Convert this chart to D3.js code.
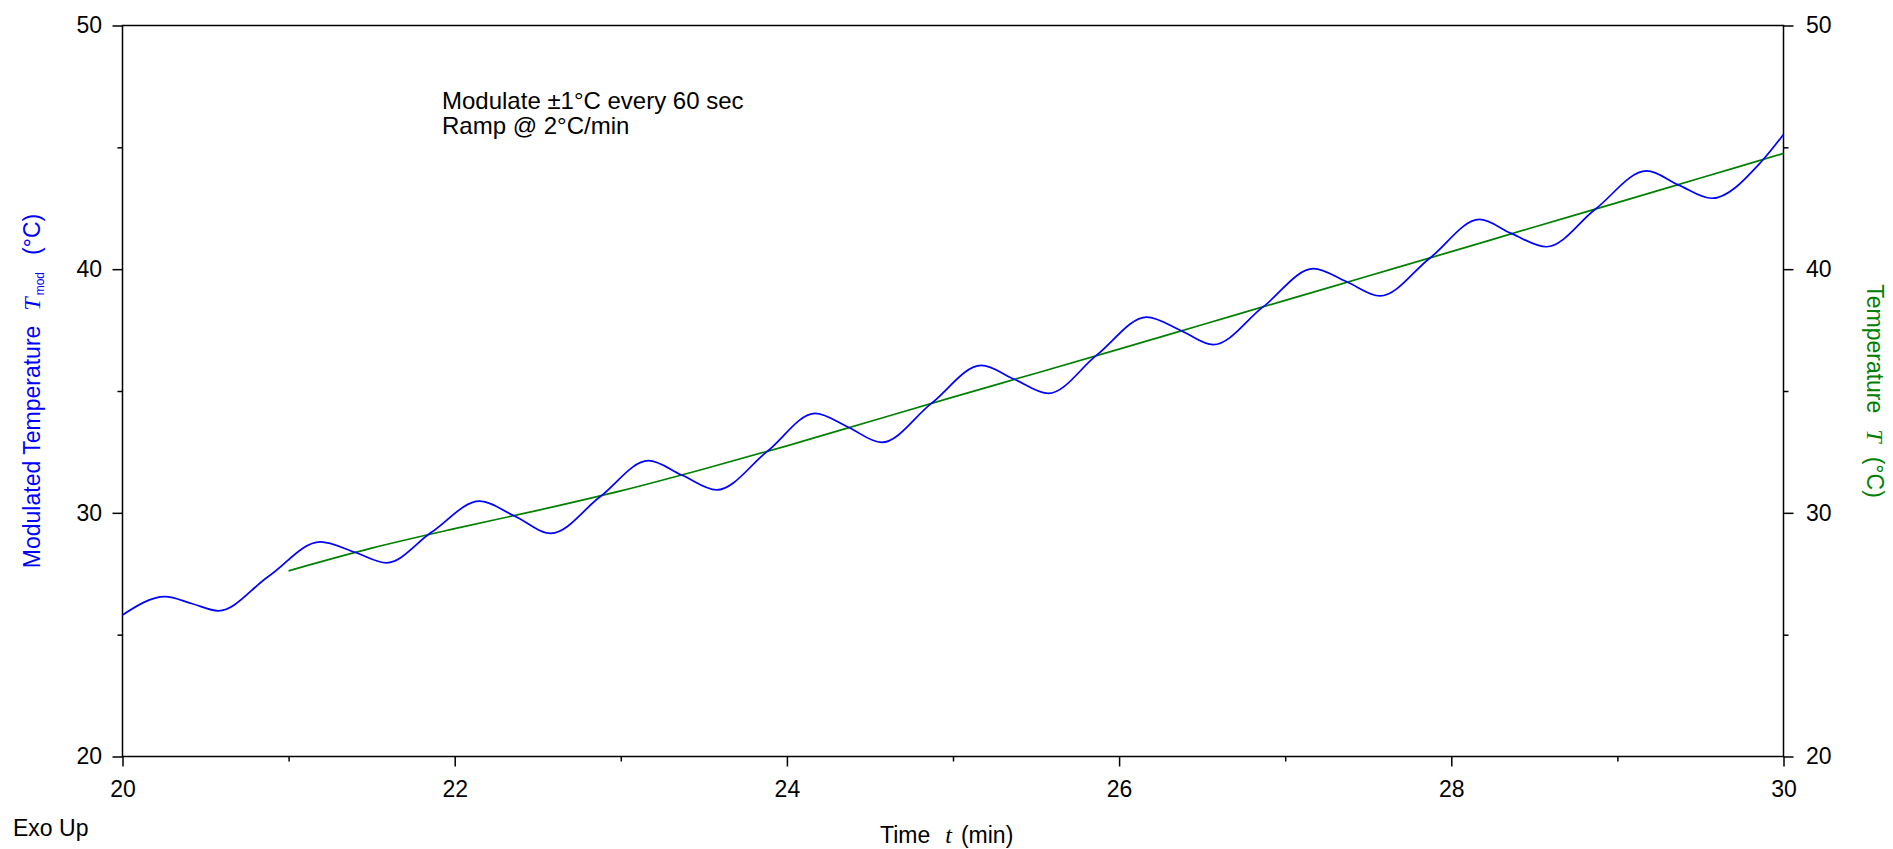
<!DOCTYPE html>
<html>
<head>
<meta charset="utf-8">
<script src="https://cdn.jsdelivr.net/npm/d3@7"></script>
<style>
  body { margin: 0; background: #fff; }
  text { font-family: Arial, "Liberation Sans", sans-serif; }
</style>
</head>
<body>
<div id="chart"></div>
<script>
// modulated temperature (extrema and mid crossings)
const modTime = [20.0, 20.256, 20.42, 20.577, 20.88, 21.19, 21.40, 21.59, 21.86, 22.15, 22.36, 22.58,
                 22.875, 23.166, 23.367, 23.577, 23.88, 24.17, 24.37, 24.57, 24.87, 25.17, 25.37, 25.574,
                 25.865, 26.166, 26.377, 26.567, 26.868, 27.17, 27.37, 27.571, 27.87, 28.17, 28.36, 28.574,
                 28.865, 29.176, 29.37, 29.568, 29.87, 30.0];
const modTemp = [25.81, 26.56, 26.27, 25.98, 27.40, 28.81, 28.38, 27.95, 29.20, 30.48, 29.87, 29.16,
                 30.66, 32.14, 31.55, 30.94, 32.51, 34.08, 33.51, 32.89, 34.49, 36.05, 35.48, 34.90,
                 36.47, 38.03, 37.46, 36.90, 38.46, 40.02, 39.48, 38.90, 40.45, 42.04, 41.47, 40.92,
                 42.45, 44.03, 43.45, 42.91, 44.44, 45.53];

// underlying ramp temperature
const rampTime = [21.0, 21.5, 22.0, 22.5, 23.0, 23.5, 24.0, 24.5, 25.0, 25.5, 26.0, 26.5, 27.0,
                  27.5, 28.0, 28.5, 29.0, 29.5, 30.0];
const rampTemp = [27.62, 28.55, 29.35, 30.10, 30.90, 31.80, 32.75, 33.75, 34.75, 35.73, 36.72, 37.72, 38.72,
                  39.72, 40.72, 41.73, 42.73, 43.74, 44.75];

const xMajor = [20, 22, 24, 26, 28, 30];
const xMinor = [21, 23, 25, 27, 29];
const yMajor = [20, 30, 40, 50];
const yMinor = [25, 35, 45];

const WIDTH = 1893;
const HEIGHT = 849;
const LEFT = 122.5, RIGHT = 1783.5, TOP = 25.5, BOTTOM = 756.5;
const FONT = 23;

let svg = d3.select("#chart")
            .append("svg")
            .attr("width", WIDTH)
            .attr("height", HEIGHT);

let xScale = d3.scaleLinear().domain([20, 30]).range([LEFT, RIGHT]);
let yScale = d3.scaleLinear().domain([20, 50]).range([BOTTOM, TOP]);

// axes
function styleAxis(g) {
    g.select(".domain").remove();
    g.selectAll(".tick line").attr("stroke", "#000").attr("stroke-width", 1.5);
    g.selectAll(".tick text")
     .attr("fill", "#000")
     .attr("font-size", FONT)
     .attr("font-family", "Arial, 'Liberation Sans', sans-serif");
}

svg.append("g")
   .attr("transform", "translate(0," + BOTTOM + ")")
   .call(d3.axisBottom(xScale).tickValues(xMajor).tickSize(10).tickPadding(14).tickFormat(d3.format("d")))
   .call(styleAxis);
svg.append("g")
   .attr("transform", "translate(0," + BOTTOM + ")")
   .call(d3.axisBottom(xScale).tickValues(xMinor).tickSize(5).tickFormat(""))
   .call(styleAxis);

svg.append("g")
   .attr("transform", "translate(" + LEFT + ",0)")
   .call(d3.axisLeft(yScale).tickValues(yMajor).tickSize(10).tickPadding(10.5).tickFormat(d3.format("d")))
   .call(styleAxis);
svg.append("g")
   .attr("transform", "translate(" + LEFT + ",0)")
   .call(d3.axisLeft(yScale).tickValues(yMinor).tickSize(5).tickFormat(""))
   .call(styleAxis);

svg.append("g")
   .attr("transform", "translate(" + RIGHT + ",0)")
   .call(d3.axisRight(yScale).tickValues(yMajor).tickSize(10).tickPadding(12.5).tickFormat(d3.format("d")))
   .call(styleAxis);
svg.append("g")
   .attr("transform", "translate(" + RIGHT + ",0)")
   .call(d3.axisRight(yScale).tickValues(yMinor).tickSize(5).tickFormat(""))
   .call(styleAxis);

// frame
svg.append("rect")
   .attr("x", LEFT)
   .attr("y", TOP)
   .attr("width", RIGHT - LEFT)
   .attr("height", BOTTOM - TOP)
   .attr("fill", "none")
   .attr("stroke", "#000")
   .attr("stroke-width", 1.5);

// curves
let line = d3.line()
             .x((d) => xScale(d[0]))
             .y((d) => yScale(d[1]))
             .curve(d3.curveMonotoneX);

svg.append("path")
   .datum(rampTime.map((t, i) => [t, rampTemp[i]]))
   .attr("d", line)
   .attr("fill", "none")
   .attr("stroke", "#008000")
   .attr("stroke-width", 1.7);

svg.append("path")
   .datum(modTime.map((t, i) => [t, modTemp[i]]))
   .attr("d", line)
   .attr("fill", "none")
   .attr("stroke", "#0000ff")
   .attr("stroke-width", 1.7);

// annotation
let note = svg.append("text")
              .attr("x", 442)
              .attr("y", 109)
              .attr("font-size", 24)
              .attr("fill", "#000");
note.append("tspan").text("Modulate \u00b11\u00b0C every 60 sec");
note.append("tspan").attr("x", 442).attr("dy", 25).text("Ramp @ 2\u00b0C/min");

const SERIF = "'Liberation Serif', 'Times New Roman', serif";

// x title
let xTitle = svg.append("text")
                .attr("x", 880)
                .attr("y", 843)
                .attr("font-size", FONT)
                .attr("fill", "#000");
xTitle.append("tspan").text("Time");
xTitle.append("tspan").attr("dx", 15).attr("font-family", SERIF).attr("font-style", "italic").attr("font-size", 24).text("t");
xTitle.append("tspan").attr("dx", 9).text("(min)");

// left title
let yTitle = svg.append("text")
                .attr("transform", "translate(40," + ((TOP + BOTTOM) / 2) + ") rotate(-90)")
                .attr("text-anchor", "middle")
                .attr("font-size", FONT)
                .attr("fill", "#0000ff");
yTitle.append("tspan").text("Modulated Temperature");
yTitle.append("tspan").attr("dx", 15).attr("font-family", SERIF).attr("font-style", "italic").attr("font-size", 24).text("T");
yTitle.append("tspan").attr("dx", 2).attr("dy", 4).attr("font-size", 12).text("mod");
yTitle.append("tspan").attr("dx", 17).attr("dy", -4).text("(\u00b0C)");

// right title
let y2Title = svg.append("text")
                 .attr("transform", "translate(1867," + ((TOP + BOTTOM) / 2) + ") rotate(90)")
                 .attr("text-anchor", "middle")
                 .attr("font-size", FONT)
                 .attr("fill", "#008000");
y2Title.append("tspan").text("Temperature");
y2Title.append("tspan").attr("dx", 16).attr("font-family", SERIF).attr("font-style", "italic").attr("font-size", 24).text("T");
y2Title.append("tspan").attr("dx", 14).text("(\u00b0C)");

// corner label
svg.append("text")
   .attr("x", 13)
   .attr("y", 836)
   .attr("font-size", FONT)
   .attr("fill", "#000")
   .text("Exo Up");
</script>
</body>
</html>
